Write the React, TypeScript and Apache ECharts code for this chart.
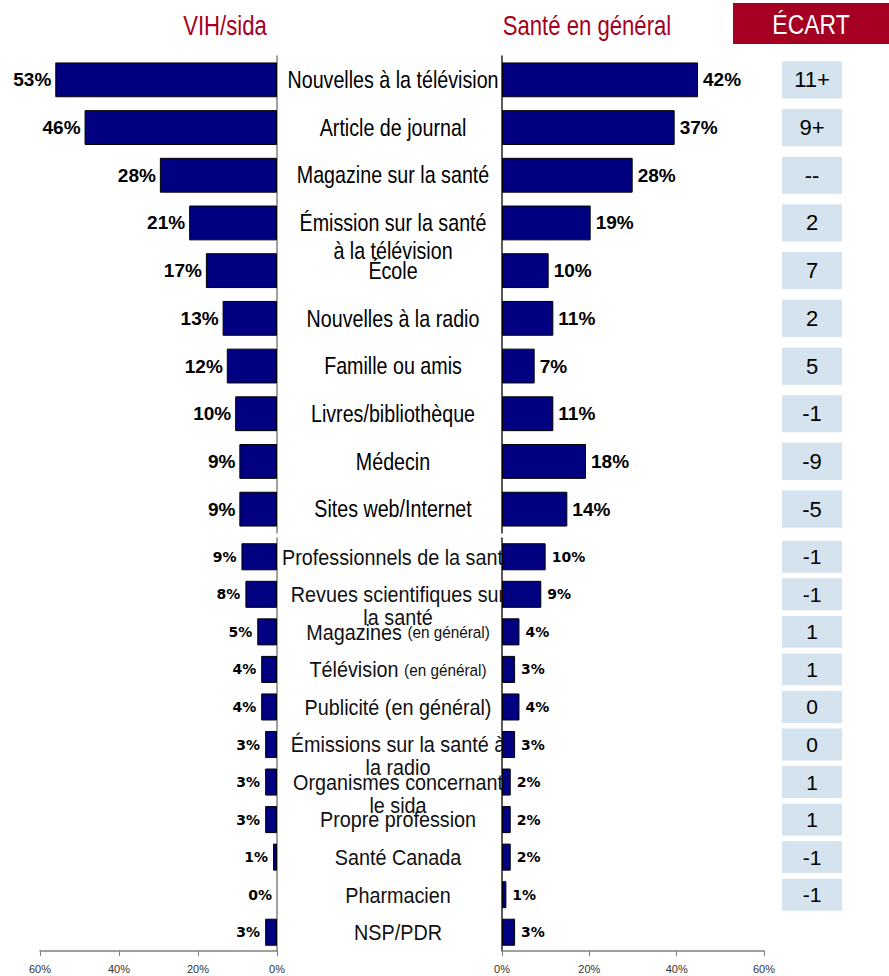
import React, { useEffect, useRef } from "react";
import * as echarts from "echarts";

const topCategories = [
  "Nouvelles à la télévision",
  "Article de journal",
  "Magazine sur la santé",
  "Émission sur la santé\nà la télévision",
  "École",
  "Nouvelles à la radio",
  "Famille ou amis",
  "Livres/bibliothèque",
  "Médecin",
  "Sites web/Internet",
];
const vihTop = [53, 46, 28, 21, 17, 13, 12, 10, 9, 9];
const santeTop = [42, 37, 28, 19, 10, 11, 7, 11, 18, 14];
const ecartTop = ["11+", "9+", "--", "2", "7", "2", "5", "-1", "-9", "-5"];

const bottomCategories = [
  "Professionnels de la santé",
  "Revues scientifiques sur\nla santé",
  "Magazines (en général)",
  "Télévision (en général)",
  "Publicité (en général)",
  "Émissions sur la santé à\nla radio",
  "Organismes concernant\nle sida",
  "Propre profession",
  "Santé Canada",
  "Pharmacien",
  "NSP/PDR",
];
const vihBottom = [9, 8, 5, 4, 4, 3, 3, 3, 1, 0, 3];
const santeBottom = [10, 9, 4, 3, 4, 3, 2, 2, 2, 1, 3];
const ecartBottom = ["-1", "-1", "1", "1", "0", "0", "1", "1", "-1", "-1", ""];

const axisTicks = [0, 20, 40, 60];

const NAVY = "#000080";
const RED = "#A50021";
const BOX = "#D4E3ED";
const SANS = "'Liberation Sans', Arial, sans-serif";

function barData(vals: number[]) {
  return vals.map((v) =>
    v === 0 ? { value: 0, itemStyle: { borderWidth: 0 } } : v
  );
}

export default function App() {
  const ref = useRef<HTMLDivElement>(null);
  useEffect(() => {
    document.body.style.margin = "0";
    if (!ref.current) return;
    const chart = echarts.init(ref.current, null, { renderer: "svg" });

    const topTop = 56, topH = 477, botTop = 538, botH = 413;
    const maxV = axisTicks[axisTicks.length - 1];

    const hiddenX = (grid: number, inverse = false, max = maxV) => ({
      type: "value", gridIndex: grid, min: 0, max, inverse, show: false,
    });
    const shownX = (grid: number, inverse: boolean) => ({
      type: "value", gridIndex: grid, min: 0, max: maxV, interval: 20, inverse,
      axisLine: { show: true, lineStyle: { color: "#808080", width: 1.5 } },
      axisTick: { show: true, length: 5, lineStyle: { color: "#808080" } },
      splitLine: { show: false },
      axisLabel: {
        formatter: "{value}%", fontSize: 11, fontFamily: SANS, color: "#333", margin: 12,
      },
    });

    const valueLabel = (pos: string, size: number, fam: string, dist: number) => ({
      show: true, position: pos, distance: dist, formatter: "{c}%",
      fontSize: size, fontWeight: "bold", fontFamily: fam, color: "#000",
    });

    const barSeries = (xi: number, data: number[], pos: string, size: number, fam: string, dist: number, gap: string) => ({
      type: "bar", xAxisIndex: xi, yAxisIndex: xi, data: barData(data),
      barCategoryGap: gap,
      itemStyle: { color: NAVY, borderColor: "#000", borderWidth: 1 },
      label: valueLabel(pos, size, fam, dist),
      z: 3,
    });

    const ecartSeries = (xi: number, texts: string[], gap: string, size: number) => ({
      type: "bar", xAxisIndex: xi, yAxisIndex: xi,
      data: texts.map((t) => (t === "" ? null : 1)),
      barCategoryGap: gap,
      itemStyle: { color: BOX },
      label: {
        show: true, position: "inside",
        formatter: (p: any) => texts[p.dataIndex],
        fontSize: size, fontFamily: SANS, color: "#000",
      },
    });

    const catAxis = (grid: number, data: string[], position: string, color: string) => ({
      type: "category", gridIndex: grid, data, inverse: true, position,
      axisLine: { show: true, lineStyle: { color, width: 1.5 } },
      axisTick: { show: false }, axisLabel: { show: false },
    });

    const option: any = {
      animation: false,
      grid: [
        { left: 26, width: 251, top: topTop, height: topH },
        { left: 502, width: 280, top: topTop, height: topH },
        { left: 40, width: 237, top: botTop, height: botH },
        { left: 502, width: 262, top: botTop, height: botH },
        { left: 782, width: 60, top: topTop, height: topH },
        { left: 782, width: 60, top: botTop, height: botH },
      ],
      xAxis: [
        hiddenX(0, true),
        hiddenX(1),
        shownX(2, true),
        shownX(3, false),
        hiddenX(4, false, 1),
        hiddenX(5, false, 1),
      ],
      yAxis: [
        catAxis(0, topCategories, "right", "#808080"),
        catAxis(1, topCategories, "left", "#222"),
        catAxis(2, bottomCategories, "right", "#808080"),
        catAxis(3, bottomCategories, "left", "#222"),
        { type: "category", gridIndex: 4, data: topCategories, inverse: true, show: false },
        { type: "category", gridIndex: 5, data: bottomCategories, inverse: true, show: false },
      ],
      series: [
        barSeries(0, vihTop, "left", 19, SANS, 4, "27%"),
        barSeries(1, santeTop, "right", 19, SANS, 5, "27%"),
        barSeries(2, vihBottom, "left", 14, "'DejaVu Sans', sans-serif", 5, "28%"),
        barSeries(3, santeBottom, "right", 14, "'DejaVu Sans', sans-serif", 6, "28%"),
        ecartSeries(4, ecartTop, "22%", 22),
        ecartSeries(5, ecartBottom, "15%", 21),
      ],
    };
    chart.setOption(option);

    const narrowText = (x: number, y: number, text: string, size: number, fill: string, lh: number, sx: number, rich?: any) => {
      const multi = text.includes("\n");
      return {
        type: "text", x, y, scaleX: sx, z: 1,
        style: {
          text, x: 0, y: multi ? -lh / 2 : 0, fontSize: size, fontFamily: SANS, fill,
          lineHeight: lh, textAlign: "center", textVerticalAlign: multi ? "top" : "middle",
          ...(rich ? { rich } : {}),
        },
      };
    };

    const topLabels = topCategories.map((c, i) => {
      const py = chart.convertToPixel({ yAxisIndex: 0 } as any, i) as any as number;
      return narrowText(393, py, c, 24, "#000", 28, 0.82);
    });
    const smallRich = {
      b: { fontSize: 22, fontFamily: SANS, fill: "#111" },
      s: { fontSize: 17, fontFamily: SANS, fill: "#111" },
    };
    const bottomLabels = bottomCategories.map((c, i) => {
      const py = chart.convertToPixel({ yAxisIndex: 2 } as any, i) as any as number;
      const m = c.match(/^(Magazines|Télévision) \(en général\)$/);
      if (m) return narrowText(398, py, `{b|${m[1]} }{s|(en général)}`, 22, "#111", 23, 0.9, smallRich);
      return narrowText(398, py, c, 22, "#111", 23, 0.9);
    });

    chart.setOption({
      graphic: [
        narrowText(225, 26, "VIH/sida", 27, RED, 30, 0.82),
        narrowText(587, 26, "Santé en général", 27, RED, 30, 0.82),
        { type: "rect", z: 1, shape: { x: 733, y: 3, width: 156, height: 41 }, style: { fill: RED } },
        { ...narrowText(811, 24, "ÉCART", 27, "#fff", 30, 0.85), z: 2 },
        ...topLabels,
        ...bottomLabels,
      ],
    });
    return () => chart.dispose();
  }, []);
  return <div ref={ref} style={{ width: 889, height: 976 }} />;
}
